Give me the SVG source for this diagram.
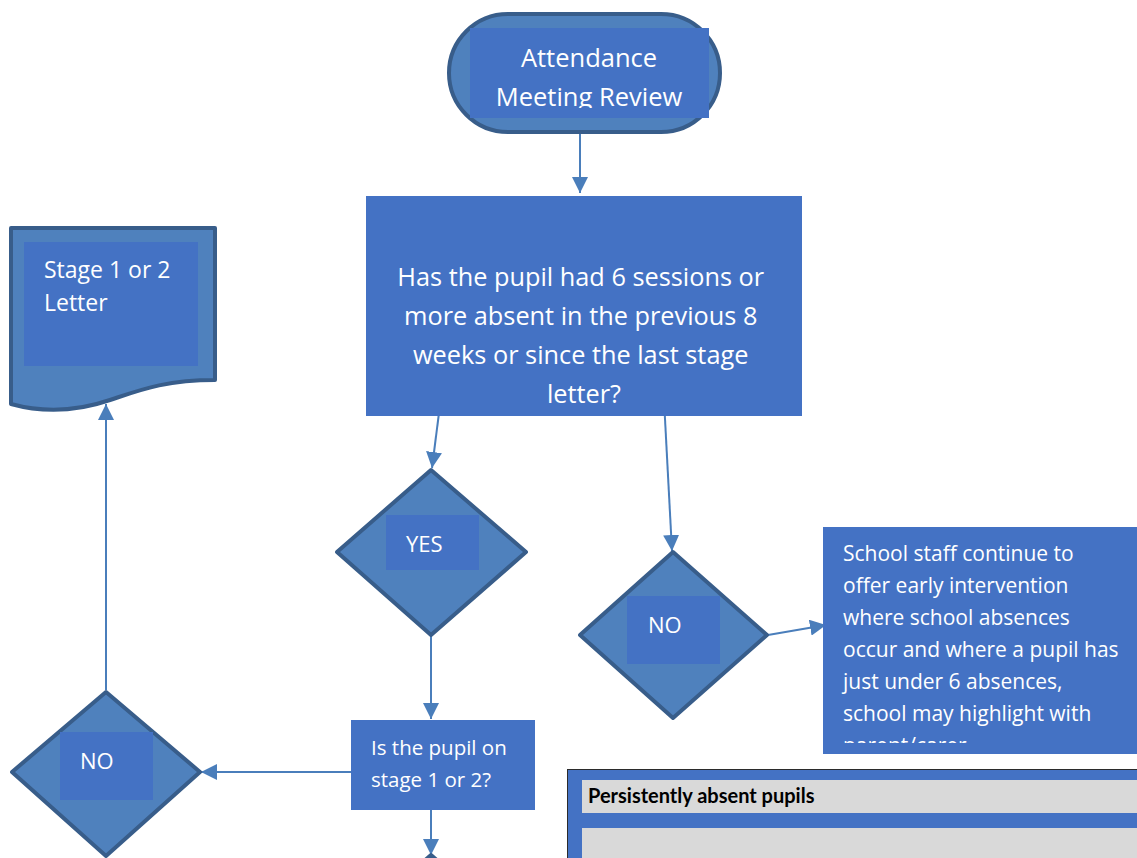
<svg xmlns="http://www.w3.org/2000/svg" width="1137" height="858" viewBox="0 0 1137 858">
<style>
.shape{fill:#4F81BD;stroke:#385D8A;stroke-width:4;stroke-linejoin:round}
.inner{fill:#4472C4}
.box{fill:#4472C4}
.t{font-family:"Open Sans","Noto Sans","Liberation Sans",sans-serif;fill:#FFFFFF}
.conn{stroke:#4A7EBB;stroke-width:2;fill:none;marker-end:url(#arr)}
</style>
<defs>
<marker id="arr" viewBox="0 0 10 10" refX="10" refY="5" markerWidth="8" markerHeight="8" orient="auto">
<path d="M0,0 L10,5 L0,10 z" fill="#4A7EBB"/>
</marker>
<clipPath id="termClip"><rect x="470" y="28" width="239" height="80"/></clipPath>
<clipPath id="staffClip"><rect x="823" y="527" width="314" height="216"/></clipPath>
</defs>

<g id="connectors">
<line x1="580" y1="134" x2="580" y2="193" class="conn"/>
<line x1="441" y1="397" x2="432" y2="468" class="conn"/>
<line x1="664" y1="400" x2="672" y2="551" class="conn"/>
<line x1="768" y1="635" x2="826" y2="625" class="conn"/>
<line x1="431" y1="636" x2="431" y2="719" class="conn"/>
<line x1="351" y1="772" x2="201" y2="772" class="conn"/>
<line x1="431" y1="810" x2="431" y2="855" class="conn"/>
<line x1="106" y1="690" x2="106" y2="404" class="conn"/>
</g>

<g id="start">
<rect x="449" y="14" width="271" height="118" rx="59" ry="59" class="shape"/>
<rect x="470" y="28" width="239" height="90" class="inner"/>
<g clip-path="url(#termClip)">
<text class="t" x="589" y="67" font-size="25.5" text-anchor="middle">Attendance</text>
<text class="t" x="589" y="106" font-size="25.5" text-anchor="middle">Meeting Review</text>
</g>
</g>

<g id="question">
<rect x="366" y="196" width="436" height="220" class="box"/>
<text class="t" font-size="25.3" text-anchor="middle">
<tspan x="584" y="286">Has the pupil had 6 sessions or</tspan>
<tspan x="584" y="325">more absent in the previous 8</tspan>
<tspan x="584" y="364">weeks or since the last stage</tspan>
<tspan x="584" y="403">letter?</tspan>
</text>
</g>

<g id="yes">
<path d="M431,470 L526,552 L431,635 L337,552 Z" class="shape"/>
<rect x="386" y="515" width="93" height="55" class="inner"/>
<text class="t" x="406" y="552" font-size="22">YES</text>
</g>

<g id="no-right">
<path d="M673,552 L767,635 L673,718 L580,635 Z" class="shape"/>
<rect x="627" y="596" width="93" height="68" class="inner"/>
<text class="t" x="648" y="633" font-size="22">NO</text>
</g>

<g id="staff">
<rect x="823" y="527" width="314" height="227" class="box"/>
<g clip-path="url(#staffClip)">
<text class="t" font-size="21">
<tspan x="843" y="561">School staff continue to</tspan>
<tspan x="843" y="593">offer early intervention</tspan>
<tspan x="843" y="625">where school absences</tspan>
<tspan x="843" y="657">occur and where a pupil has</tspan>
<tspan x="843" y="689">just under 6 absences,</tspan>
<tspan x="843" y="721">school may highlight with</tspan>
<tspan x="843" y="753">parent/carer</tspan>
</text>
</g>
</g>

<g id="stage-question">
<rect x="351" y="720" width="184" height="90" class="box"/>
<text class="t" font-size="20.5">
<tspan x="371" y="755">Is the pupil on</tspan>
<tspan x="371" y="787">stage 1 or 2?</tspan>
</text>
</g>

<g id="no-left">
<path d="M106,692 L200,772 L106,856 L12,772 Z" class="shape"/>
<rect x="60" y="732" width="93" height="68" class="inner"/>
<text class="t" x="80" y="769" font-size="22">NO</text>
</g>

<g id="letter">
<path d="M11,228 L215,228 L215,380 C165,380 140,390 110,400 C75,412 40,412 11,404 Z" class="shape"/>
<rect x="24" y="242" width="174" height="124" class="inner"/>
<text class="t" font-size="23">
<tspan x="44" y="278">Stage 1 or 2</tspan>
<tspan x="44" y="311">Letter</tspan>
</text>
</g>

<g id="next-diamond">
<path d="M431,855 L480,898 L431,941 L382,898 Z" class="shape"/>
</g>

<g id="table">
<rect x="567.5" y="769.5" width="580" height="100" fill="#4472C4" stroke="#2B2B2B" stroke-width="1"/>
<rect x="582" y="780" width="560" height="33" fill="#D9D9D9"/>
<rect x="582" y="828" width="560" height="40" fill="#D9D9D9"/>
<text x="588" y="803" font-family="Lato,'Liberation Sans',sans-serif" font-weight="bold" font-size="20" fill="#000000">Persistently absent pupils</text>
</g>
</svg>
